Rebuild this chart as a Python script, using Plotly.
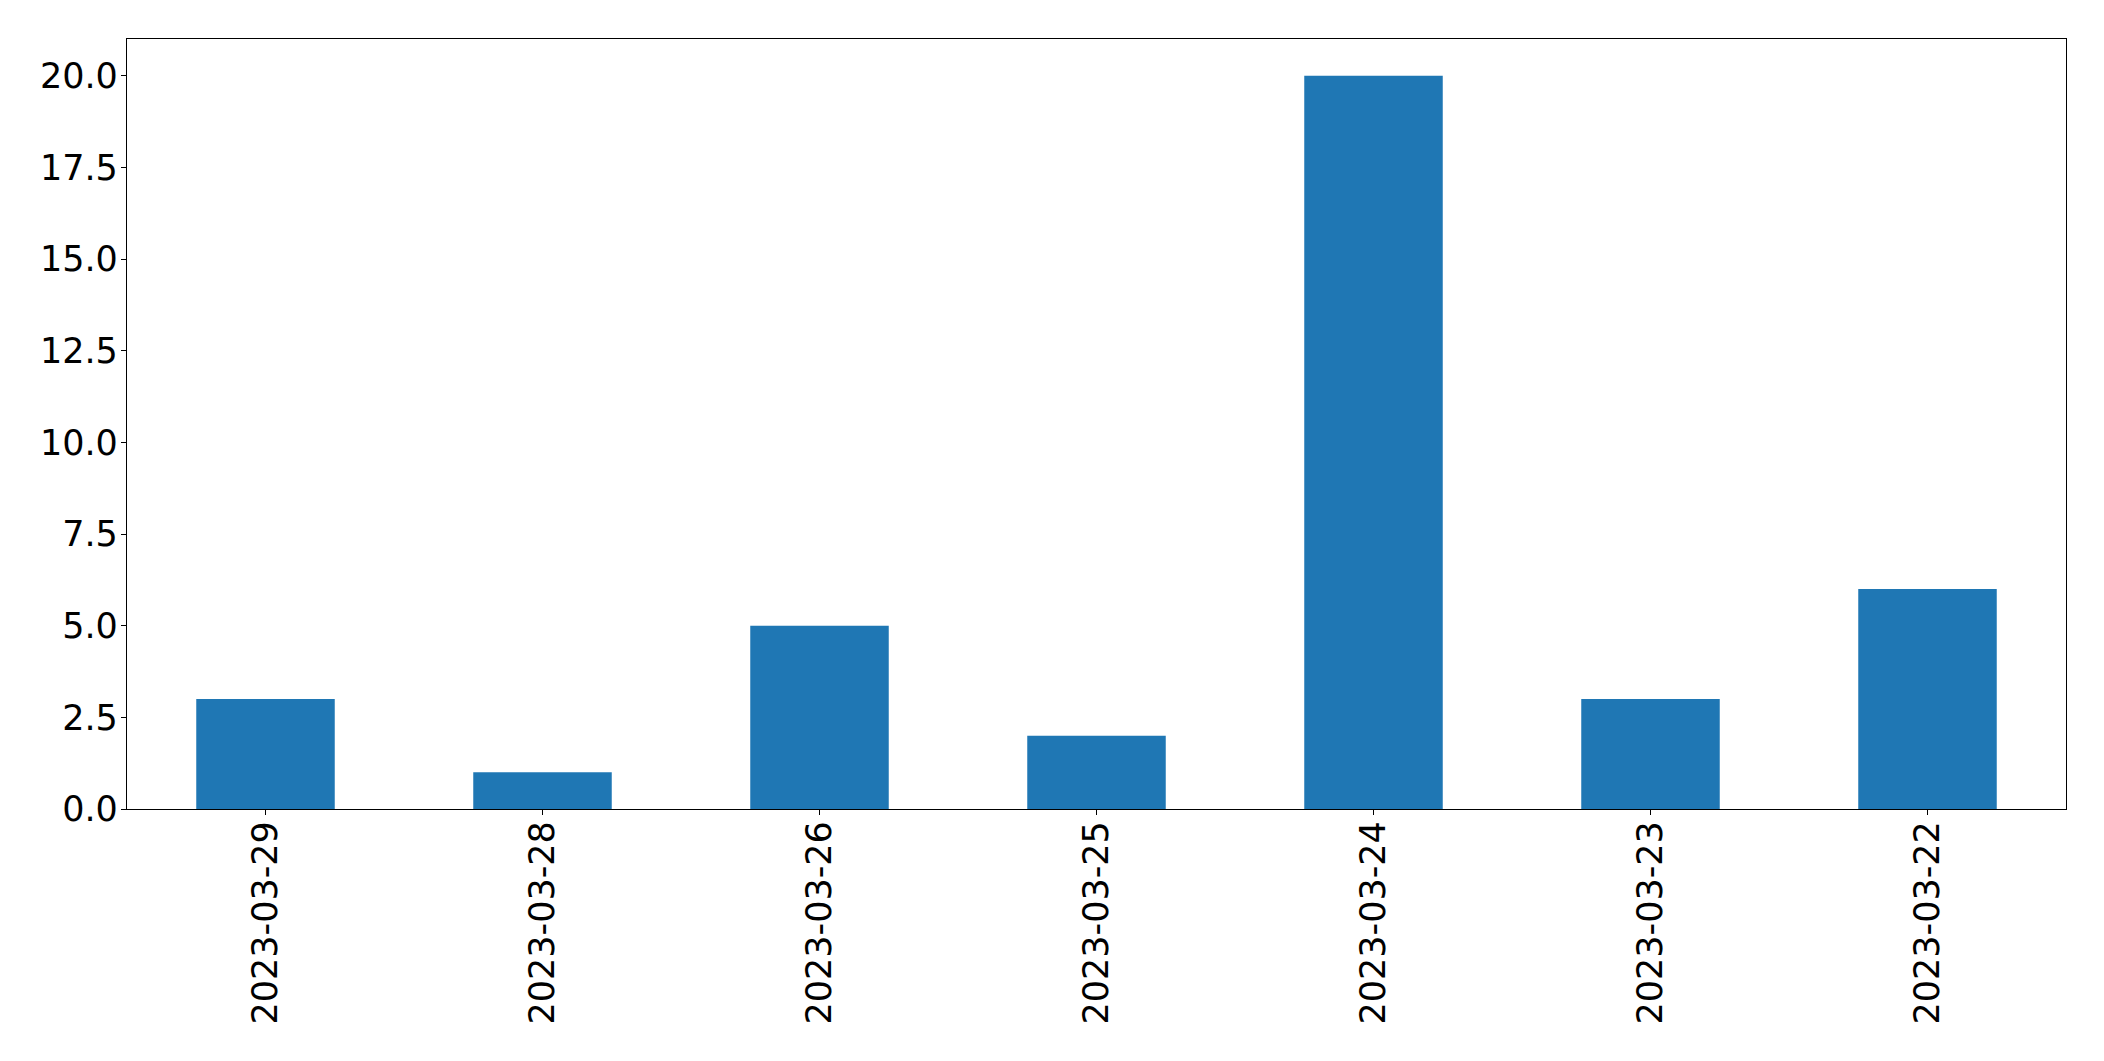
import plotly.graph_objects as go

categories = ["2023-03-29", "2023-03-28", "2023-03-26", "2023-03-25", "2023-03-24", "2023-03-23", "2023-03-22"]
values = [3, 1, 5, 2, 20, 3, 6]
y_ticks = [0, 2.5, 5, 7.5, 10, 12.5, 15, 17.5, 20]
y_tick_labels = ["0.0", "2.5", "5.0", "7.5", "10.0", "12.5", "15.0", "17.5", "20.0"]

fig = go.Figure(go.Bar(x=categories, y=values, width=0.5, marker=dict(color="#1f77b4", line=dict(width=0))))

axis_common = dict(showline=True, mirror=True, linecolor="black", linewidth=1.3,
                   ticks="outside", ticklen=5, tickwidth=1.3, tickcolor="black",
                   showgrid=False, zeroline=False,
                   tickfont=dict(family="DejaVu Sans", size=35, color="black"))

fig.update_layout(
    width=2104, height=1061,
    margin=dict(l=119, r=46, t=31, b=260),
    plot_bgcolor="white", paper_bgcolor="white",
    showlegend=False,
    xaxis=dict(type="category", range=[-0.5, 6.5], tickangle=-90, ticklabelstandoff=-8, **axis_common),
    yaxis=dict(range=[0, 21], tickvals=y_ticks, ticktext=y_tick_labels, ticklabelstandoff=-4, **axis_common),
)

fig.write_html("out.html")
